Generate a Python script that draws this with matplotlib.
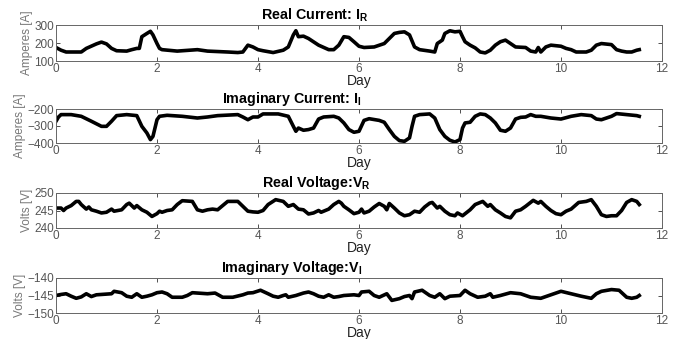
import matplotlib
matplotlib.use('Agg')
import matplotlib.pyplot as plt
import numpy as np

plt.rcParams['font.family'] = ['Liberation Sans', 'DejaVu Sans']
plt.rcParams['mathtext.fontset'] = 'custom'
plt.rcParams['mathtext.bf'] = 'Liberation Sans:bold'
plt.rcParams['mathtext.rm'] = 'Liberation Sans'

# ---- data (day, value) ----
ir_day = [0, 0.1, 0.2, 0.5, 0.6, 0.8, 0.9, 1.0, 1.1, 1.2, 1.4, 1.5, 1.6, 1.65, 1.7, 1.8, 1.87, 1.92,
          2.0, 2.05, 2.1, 2.4, 2.8, 3.0, 3.4, 3.6, 3.7, 3.8, 3.9, 4.0, 4.1, 4.3, 4.5, 4.6, 4.7, 4.75,
          4.8, 4.9, 5.0, 5.2, 5.4, 5.5, 5.6, 5.7, 5.8, 5.9, 6.0, 6.1, 6.3, 6.5, 6.6, 6.7, 6.8, 6.9,
          7.0, 7.1, 7.2, 7.4, 7.5, 7.55, 7.65, 7.7, 7.8, 7.9, 8.0, 8.05, 8.1, 8.2, 8.3, 8.4, 8.5,
          8.6, 8.7, 8.8, 8.9, 9.0, 9.1, 9.3, 9.4, 9.5, 9.55, 9.6, 9.7, 9.8, 10.0, 10.1, 10.2, 10.3,
          10.5, 10.6, 10.7, 10.8, 11.0, 11.1, 11.2, 11.3, 11.4, 11.5, 11.55]
ir_val = [175, 160, 150, 150, 170, 195, 205, 195, 170, 157, 155, 163, 170, 170, 235, 253, 265, 245,
          197, 170, 163, 155, 163, 155, 150, 147, 150, 188, 178, 163, 157, 147, 160, 178, 245, 268,
          235, 238, 225, 188, 163, 163, 188, 235, 231, 207, 182, 175, 178, 197, 225, 253, 259, 262,
          245, 178, 163, 155, 150, 197, 216, 253, 268, 262, 265, 235, 207, 188, 173, 150, 145,
          160, 188, 207, 216, 197, 178, 175, 155, 150, 175, 150, 178, 188, 182, 170, 163, 150,
          150, 160, 188, 197, 191, 163, 155, 150, 150, 160, 163]

ii_day = [0, 0.05, 0.1, 0.3, 0.5, 0.7, 0.9, 1.0, 1.1, 1.2, 1.4, 1.6, 1.7, 1.8, 1.87, 1.92, 2.0,
          2.05, 2.2, 2.5, 2.8, 3.0, 3.2, 3.6, 3.7, 3.8, 3.9, 4.0, 4.1, 4.4, 4.6, 4.7, 4.75, 4.8,
          4.9, 5.0, 5.1, 5.2, 5.3, 5.5, 5.6, 5.7, 5.8, 5.9, 6.0, 6.1, 6.2, 6.4, 6.5, 6.6, 6.7,
          6.8, 6.9, 7.0, 7.05, 7.1, 7.2, 7.4, 7.5, 7.6, 7.7, 7.8, 7.9, 8.0, 8.05, 8.1, 8.2, 8.3,
          8.4, 8.5, 8.6, 8.7, 8.8, 8.9, 9.0, 9.1, 9.2, 9.3, 9.4, 9.5, 9.6, 9.8, 10.0, 10.2, 10.4,
          10.6, 10.7, 10.8, 10.9, 11.0, 11.1, 11.3, 11.5, 11.55]
ii_val = [-272, -247, -233, -233, -243, -272, -302, -302, -272, -239, -233, -239, -302, -341,
          -380, -361, -263, -243, -237, -243, -253, -247, -239, -233, -247, -263, -247, -247,
          -229, -229, -243, -302, -331, -312, -325, -321, -312, -259, -247, -243, -253, -282,
          -321, -337, -331, -267, -257, -267, -278, -321, -361, -386, -390, -370, -302, -243,
          -233, -229, -253, -321, -361, -384, -394, -380, -312, -282, -278, -243, -229, -233,
          -253, -282, -325, -331, -312, -259, -249, -247, -233, -243, -243, -253, -259, -243,
          -233, -239, -259, -263, -253, -243, -227, -233, -239, -243]

vr_day = [0, 0.1, 0.15, 0.2, 0.3, 0.4, 0.45, 0.5, 0.6, 0.65, 0.7, 0.8, 0.9, 1.0, 1.1, 1.15, 1.3,
          1.4, 1.45, 1.55, 1.6, 1.7, 1.8, 1.9, 2.0, 2.05, 2.1, 2.2, 2.3, 2.4, 2.5, 2.7, 2.8, 2.9,
          3.0, 3.1, 3.2, 3.3, 3.4, 3.6, 3.7, 3.8, 3.9, 4.0, 4.1, 4.2, 4.35, 4.5, 4.6, 4.7, 4.8,
          4.9, 5.0, 5.1, 5.2, 5.25, 5.4, 5.5, 5.6, 5.65, 5.7, 5.8, 5.9, 6.0, 6.05, 6.1, 6.2, 6.3,
          6.4, 6.5, 6.55, 6.6, 6.7, 6.8, 6.9, 7.0, 7.1, 7.2, 7.3, 7.4, 7.45, 7.55, 7.6, 7.7, 7.8,
          7.9, 7.95, 8.05, 8.2, 8.3, 8.45, 8.55, 8.6, 8.7, 8.8, 8.9, 9.0, 9.1, 9.2, 9.3, 9.45,
          9.55, 9.6, 9.7, 9.8, 9.9, 10.0, 10.1, 10.2, 10.35, 10.5, 10.6, 10.7, 10.8, 10.9, 11.0,
          11.1, 11.2, 11.3, 11.4, 11.5, 11.55]
vr_val = [245.7, 245.7, 245.0, 245.7, 246.4, 247.6, 247.6, 246.7, 245.4, 246.0, 245.2, 244.8,
          244.3, 244.5, 245.4, 244.8, 245.2, 246.7, 247.1, 245.7, 246.4, 245.2, 244.5, 243.3,
          244.1, 244.8, 244.5, 245.0, 245.2, 246.7, 247.8, 247.6, 245.2, 244.8, 245.2, 245.4,
          245.2, 246.4, 247.6, 247.6, 246.2, 244.8, 244.6, 244.5, 245.0, 246.7, 248.1, 247.6,
          246.2, 246.7, 245.4, 245.2, 244.0, 244.3, 245.0, 244.5, 245.4, 246.7, 247.6, 247.1,
          246.2, 245.2, 244.1, 244.5, 245.4, 244.3, 244.8, 246.0, 247.0, 246.2, 245.2, 247.0,
          245.7, 244.3, 243.5, 243.8, 244.8, 244.5, 246.0, 247.1, 247.3, 245.7, 246.2, 244.8,
          243.8, 243.5, 244.3, 243.5, 245.2, 246.7, 247.6, 246.2, 246.7, 245.2, 244.3, 243.3,
          242.9, 244.8, 245.2, 246.2, 247.9, 247.1, 247.6, 246.2, 245.0, 244.1, 243.8, 244.8,
          245.4, 247.3, 247.6, 248.1, 246.2, 243.8, 243.3, 243.5, 243.5, 245.0, 247.3, 248.1,
          247.6, 246.7]

vi_day = [0, 0.1, 0.2, 0.3, 0.4, 0.5, 0.6, 0.7, 0.8, 1.0, 1.1, 1.15, 1.3, 1.4, 1.5, 1.6, 1.7,
          1.8, 1.9, 2.0, 2.1, 2.2, 2.3, 2.5, 2.6, 2.7, 3.0, 3.15, 3.3, 3.5, 3.7, 3.8, 3.9, 4.05,
          4.2, 4.3, 4.4, 4.5, 4.55, 4.6, 4.75, 4.9, 5.0, 5.1, 5.2, 5.3, 5.4, 5.5, 5.6, 5.7, 5.9,
          6.0, 6.05, 6.2, 6.3, 6.4, 6.55, 6.65, 6.8, 6.9, 7.0, 7.05, 7.1, 7.25, 7.4, 7.5, 7.6,
          7.7, 7.8, 8.0, 8.1, 8.2, 8.35, 8.5, 8.6, 8.65, 8.8, 9.0, 9.2, 9.4, 9.6, 9.8, 10.0,
          10.2, 10.4, 10.6, 10.7, 10.8, 11.0, 11.15, 11.3, 11.4, 11.5, 11.55]
vi_val = [-145.0, -144.7, -144.5, -145.2, -145.8, -145.4, -144.5, -145.3, -144.8, -144.6,
          -144.5, -143.8, -144.2, -145.2, -145.5, -144.5, -145.5, -145.2, -144.8, -144.2,
          -144.0, -144.5, -145.5, -145.5, -145.0, -144.2, -144.5, -144.3, -145.5, -145.5,
          -144.8, -144.3, -144.2, -143.5, -144.5, -145.2, -145.5, -145.0, -144.8, -145.5,
          -145.0, -144.3, -144.0, -144.5, -145.2, -145.5, -144.8, -145.5, -145.3, -145.0,
          -144.8, -145.0, -144.0, -143.8, -145.0, -145.5, -144.5, -146.4, -145.9, -145.3,
          -145.0, -145.9, -144.0, -143.5, -145.0, -145.5, -144.5, -145.9, -145.2, -145.0,
          -143.5, -144.5, -145.5, -145.2, -144.5, -145.5, -145.0, -144.2, -144.5, -145.5,
          -145.8, -144.8, -143.8, -144.5, -145.2, -145.8, -144.5, -143.8, -143.3, -143.5,
          -145.5, -145.8, -145.5, -145.0]

titles = [r'Real Current: I$_\mathbf{R}$', r'Imaginary Current: I$_\mathbf{I}$',
          r'Real Voltage:V$_\mathbf{R}$', r'Imaginary Voltage:V$_\mathbf{I}$']
ylabels = ['Amperes [A]', 'Amperes [A]', 'Volts [V]', 'Volts [V]']
yticks = [[100, 200, 300], [-400, -300, -200], [240, 245, 250], [-150, -145, -140]]
xticks = [0, 2, 4, 6, 8, 10, 12]

series = [(ir_day, ir_val), (ii_day, ii_val), (vr_day, vr_val), (vi_day, vi_val)]

# axes boxes in figure pixels (top, bottom) from the reference
boxes = [(25, 61), (109, 143), (193, 228), (278, 313)]
# title centres (pixels) -- the titles sit left of the axes centre in the original
title_cx = [315, 292, 316, 292]

W, H = 692, 339
fig = plt.figure(figsize=(W / 100, H / 100), dpi=100)
axcol = '#333333'
left, right = 56, 662

for i in range(4):
    top, bot = boxes[i]
    ax = fig.add_axes([left / W, 1 - bot / H, (right - left) / W, (bot - top) / H])
    d, v = series[i]
    ax.plot(d, v, color='black', linewidth=2.6, solid_joinstyle='round')
    ax.set_xlim(0, 12)
    ax.set_ylim(yticks[i][0], yticks[i][-1])
    ax.set_xticks(xticks)
    ax.set_yticks(yticks[i])
    ax.tick_params(direction='in', top=True, right=True, length=3, width=0.6,
                   color=axcol, labelcolor='#555555', labelsize=8.5, pad=1.5)
    for s in ax.spines.values():
        s.set_color('#666666')
        s.set_linewidth(0.7)
    ax.set_title(titles[i], fontsize=10.3, fontweight='bold', pad=4,
                 x=(title_cx[i] - left) / (right - left))
    ax.set_xlabel('Day', fontsize=10, color='#222222', labelpad=-1)
    ax.set_ylabel(ylabels[i], fontsize=8.5, color='#777777', labelpad=1)

fig.savefig('out.png', dpi=100)
